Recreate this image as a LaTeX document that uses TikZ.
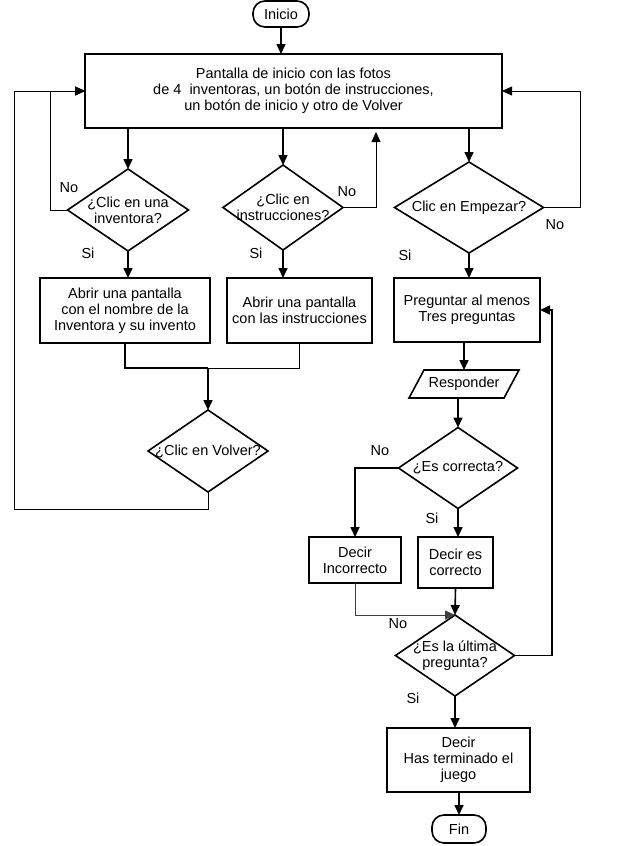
\documentclass[tikz,border=0pt]{standalone}
\usepackage{fontspec}
\setmainfont{Liberation Sans}
\usetikzlibrary{shapes.geometric,arrows.meta}
\newcommand{\fsz}{\fontsize{14.5}{16}\selectfont}
\tikzset{
  box/.style={draw, line width=1.6pt, inner sep=0pt, outer sep=0pt, align=center, font=\fsz},
  dia/.style={diamond, draw, line width=1.6pt, inner sep=0pt, outer sep=0pt},
  diatext/.style={align=center, font=\fsz, inner sep=0pt},
  term/.style={draw, rounded corners=12pt, line width=1.6pt, inner sep=0pt, outer sep=0pt, font=\fsz},
  lbl/.style={font=\fsz, inner sep=0pt},
  arr/.style={line width=1.6pt, -{Triangle[length=10pt,width=9pt]}},
  thinarr/.style={line width=0.8pt, -{Triangle[length=10pt,width=9pt]}},
  thick line/.style={line width=1.6pt},
  thin line/.style={line width=0.8pt},
}
\begin{document}
\begin{tikzpicture}[x=1pt,y=-1pt]
\useasboundingbox (0,0) rectangle (634,846);
% nodes
\node[term, minimum width=56pt, minimum height=26pt] (inicio) at (281,14) {Inicio};
\node[box, minimum width=417pt, minimum height=74pt] (main) at (293.5,91)
  {Pantalla de inicio con las fotos\\de 4\ \ inventoras, un botón de instrucciones,\\un botón de inicio y otro de Volver};
\node[dia, minimum width=121pt, minimum height=82pt] (d1) at (128,210) {};
\node[diatext] (t1) at (d1) {¿Clic en una\\inventora?};
\node[dia, minimum width=120pt, minimum height=85pt] (d2) at (283,207.5) {};
\node[diatext] (t2) at (d2) {¿Clic en\\instrucciones?};
\node[dia, minimum width=149pt, minimum height=91pt] (d3) at (469,207.5) {};
\node[diatext] (t3) at (d3) {Clic en Empezar?};
\node[box, minimum width=170pt, minimum height=65pt] (b1) at (125,310.5)
  {Abrir una pantalla\\con el nombre de la\\Inventora y su invento};
\node[box, minimum width=145pt, minimum height=65pt] (b2) at (299.5,310.5)
  {Abrir una pantalla\\con las instrucciones};
\node[box, minimum width=146pt, minimum height=64pt] (b3) at (467,310)
  {Preguntar al menos\\Tres preguntas};
\node[dia, minimum width=120pt, minimum height=82pt] (volver) at (208,451) {};
\node[diatext] (tv) at (volver) {¿Clic en Volver?};
% Responder parallelogram
\node[inner sep=0pt, outer sep=0pt, minimum width=100pt, minimum height=28pt, font=\fsz] (resp) at (464,384) {Responder};
\draw[line width=1.6pt] (409,398) -- (424,370) -- (519,370) -- (504,398) -- cycle;
\node[dia, minimum width=119pt, minimum height=81pt] (correcta) at (458,468) {};
\node[diatext] (tc) at (correcta) {¿Es correcta?};
\node[box, minimum width=92pt, minimum height=46pt] (incorrecto) at (355,560) {Decir\\Incorrecto};
\node[box, minimum width=75pt, minimum height=51pt] (correcto) at (455.5,562.5) {Decir es\\correcto};
\node[dia, minimum width=119pt, minimum height=81pt] (ultima) at (455,655.5) {};
\node[diatext] (tu) at (ultima) {¿Es la última\\pregunta?};
\node[box, minimum width=143pt, minimum height=64pt] (decir) at (458.5,760) {Decir\\Has terminado el\\juego};
\node[term, minimum width=54pt, minimum height=28pt] (fin) at (459,829) {Fin};
% labels
\node[lbl] (n1) at (69,188) {No};
\node[lbl] (s1) at (88,253) {Si};
\node[lbl] (n2) at (347,192) {No};
\node[lbl] (s2) at (256,253) {Si};
\node[lbl] (n3) at (555,225) {No};
\node[lbl] (s3) at (405,255) {Si};
\node[lbl] (n4) at (380,451) {No};
\node[lbl] (s4) at (432,518) {Si};
\node[lbl] (n5) at (398,624) {No};
\node[lbl] (s5) at (413,698) {Si};
% coordinates
\coordinate (m) at (208,368);
\coordinate (vl) at (14,509);
\coordinate (l1) at (50,210);
\coordinate (up) at (376,128);
\coordinate (r1) at (580,91);
\coordinate (r2) at (552,310);
% connectors
\draw[arr] (inicio.south) -- (inicio.south |- main.north);
\draw[arr] (d1.north |- main.south) -- (d1.north);
\draw[arr] (d2.north |- main.south) -- (d2.north);
\draw[arr] (d3.north |- main.south) -- (d3.north);
\draw[arr] (d1.south) -- (d1.south |- b1.north);
\draw[arr] (d2.south) -- (d2.south |- b2.north);
\draw[arr] (d3.south) -- (d3.south |- b3.north);
\draw[thick line] (b1.south) |- (m);
\draw[thin line] (b2.south) |- (m);
\draw[arr] (m) -- (volver.north);
\draw[thinarr] (volver.south) |- (vl) |- (main.west);
\draw[thinarr] (d1.west) -- (l1) |- (main.west);
\draw[thinarr, shorten >=4pt] (d2.east) -| (up);
\draw[thinarr] (d3.east) -| (r1) -- (main.east);
\draw[arr] (resp.north |- b3.south) -- (resp.north);
\draw[arr] (correcta.north |- resp.south) -- (correcta.north);
\draw[arr] (correcta.west) -| (incorrecto.north);
\draw[arr] (correcta.south) -- (correcta.south |- correcto.north);
\draw[thinarr, black!75] (incorrecto.south) |- (ultima.north);
\draw[arr] (correcto.south) -- (ultima.north);
\draw[arr] (ultima.east) -| (r2) -- (b3.east);
\draw[arr] (ultima.south) -- (ultima.south |- decir.north);
\draw[arr] (fin.north |- decir.south) -- (fin.north);
\end{tikzpicture}
\end{document}
